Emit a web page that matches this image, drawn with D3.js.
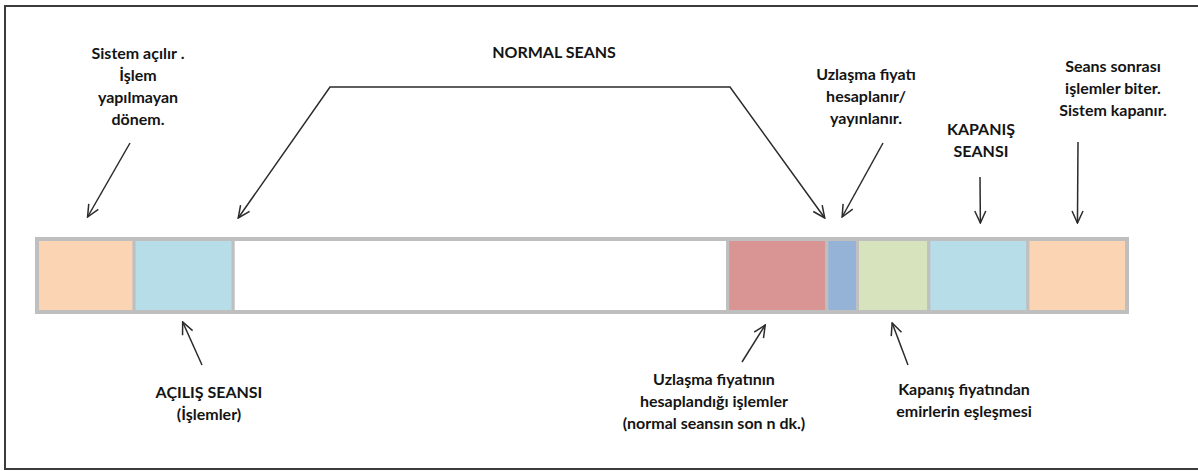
<!DOCTYPE html>
<html>
<head>
<meta charset="utf-8">
<script src="https://cdn.jsdelivr.net/npm/d3@7"></script>
<style>
  body { margin: 0; background: #fff; }
  .lbl { font-family: Lato, "Open Sans", sans-serif; font-weight: bold; font-size: 16px; fill: #141414; }
</style>
</head>
<body>
<div id="chart"></div>
<script>
// session phases, lengths (arbitrary time units)
var phases = ["Kapalı", "Açılış seansı", "Normal seans", "Uzlaşma işlemleri", "Uzlaşma fiyatı", "Kapanış eşleşmesi", "Kapanış seansı", "Seans sonrası"];
var phaseLengths = [0.98, 1, 4.99, 1, 0.31, 0.72, 1, 1];
var phaseColors = ["#fbd4b4", "#b7dde8", "#ffffff", "#d99594", "#95b3d7", "#d7e3bc", "#b7dde8", "#fbd4b4"];

// callout texts
var topLabels = [
  ["Sistem açılır .", "İşlem", "yapılmayan", "dönem."],
  ["NORMAL SEANS"],
  ["Uzlaşma fiyatı", "hesaplanır/", "yayınlanır."],
  ["KAPANIŞ", "SEANSI"],
  ["Seans sonrası", "işlemler biter.", "Sistem kapanır."]
];
var bottomLabels = [
  ["AÇILIŞ SEANSI", "(İşlemler)"],
  ["Uzlaşma fiyatının", "hesaplandığı işlemler", "(normal seansın son n dk.)"],
  ["Kapanış fiyatından", "emirlerin eşleşmesi"]
];

var svgWidth = 1198;
var svgHeight = 471;

var svg = d3.select("#chart")
  .append("svg")
  .attr("width", svgWidth)
  .attr("height", svgHeight);

var defs = svg.append("defs");
defs.append("marker")
  .attr("id", "head")
  .attr("viewBox", "0 0 14 14")
  .attr("refX", 13)
  .attr("refY", 7)
  .attr("markerWidth", 14)
  .attr("markerHeight", 14)
  .attr("markerUnits", "userSpaceOnUse")
  .attr("orient", "auto-start-reverse")
  .append("path")
  .attr("d", "M1,1.5 L13,7 L1,12.5")
  .attr("fill", "none")
  .attr("stroke", "#2b2b2b")
  .attr("stroke-width", 1.5);

// outer frame (right side runs off the picture)
svg.append("rect")
  .attr("x", 5)
  .attr("y", 6)
  .attr("width", 1210)
  .attr("height", 463)
  .attr("fill", "none")
  .attr("stroke", "#3c3c3c")
  .attr("stroke-width", 2);

// bar
var bar = { x0: 37, x1: 1127, y: 239, h: 73 };
var starts = [];
var acc = 0;
phaseLengths.forEach(function(v) { starts.push(acc); acc += v; });

var x = d3.scaleLinear()
  .domain([0, d3.sum(phaseLengths)])
  .range([bar.x0, bar.x1]);

var segs = phases.map(function(p, i) {
  return { name: p, start: starts[i], len: phaseLengths[i], color: phaseColors[i] };
});

svg.selectAll("rect.seg")
  .data(segs)
  .enter()
  .append("rect")
  .attr("class", "seg")
  .attr("x", d => x(d.start))
  .attr("y", bar.y)
  .attr("width", d => x(d.start + d.len) - x(d.start))
  .attr("height", bar.h)
  .attr("fill", d => d.color)
  .attr("stroke", "#bfbfbf")
  .attr("stroke-width", 3);

svg.append("rect")
  .attr("x", bar.x0)
  .attr("y", bar.y)
  .attr("width", bar.x1 - bar.x0)
  .attr("height", bar.h)
  .attr("fill", "none")
  .attr("stroke", "#bfbfbf")
  .attr("stroke-width", 4);

// anchor points on the bar
function mid(i) { return x(segs[i].start + segs[i].len / 2); }
function edgeL(i) { return x(segs[i].start); }
function edgeR(i) { return x(segs[i].start + segs[i].len); }

// arrows: from -> tip
var arrows = [
  [[130, 143], [mid(0) + 2, 217]],
  [[883, 143], [mid(4), 217]],
  [[980, 177], [mid(6) + 2, 223]],
  [[1078, 142], [mid(7), 223]],
  [[202, 365], [mid(1) - 1, 322]],
  [[742, 362], [mid(3) - 12, 325]],
  [[908, 365], [mid(5) - 1, 323]]
];

svg.selectAll("line.arrow")
  .data(arrows)
  .enter()
  .append("line")
  .attr("class", "arrow")
  .attr("x1", d => d[0][0])
  .attr("y1", d => d[0][1])
  .attr("x2", d => d[1][0])
  .attr("y2", d => d[1][1])
  .attr("stroke", "#2b2b2b")
  .attr("stroke-width", 1.5)
  .attr("marker-end", "url(#head)");

// normal seans bracket
var bracket = [[edgeL(2) + 5, 218], [330, 87], [730, 87], [edgeR(3) - 2, 218]];
svg.append("path")
  .attr("d", d3.line()(bracket))
  .attr("fill", "none")
  .attr("stroke", "#2b2b2b")
  .attr("stroke-width", 1.5)
  .attr("marker-start", "url(#head)")
  .attr("marker-end", "url(#head)");

// text blocks: center x, first baseline
var topPos = [[138, 59], [554, 58], [866, 80], [981, 135], [1113, 72]];
var bottomPos = [[209, 398], [714, 385], [964, 395]];

function drawBlock(lines, pos) {
  var t = svg.append("text")
    .attr("class", "lbl")
    .attr("text-anchor", "middle");
  lines.forEach(function(s, i) {
    t.append("tspan")
      .attr("x", pos[0])
      .attr("y", pos[1] + i * 22)
      .text(s);
  });
}

topLabels.forEach(function(l, i) { drawBlock(l, topPos[i]); });
bottomLabels.forEach(function(l, i) { drawBlock(l, bottomPos[i]); });
</script>
</body>
</html>
